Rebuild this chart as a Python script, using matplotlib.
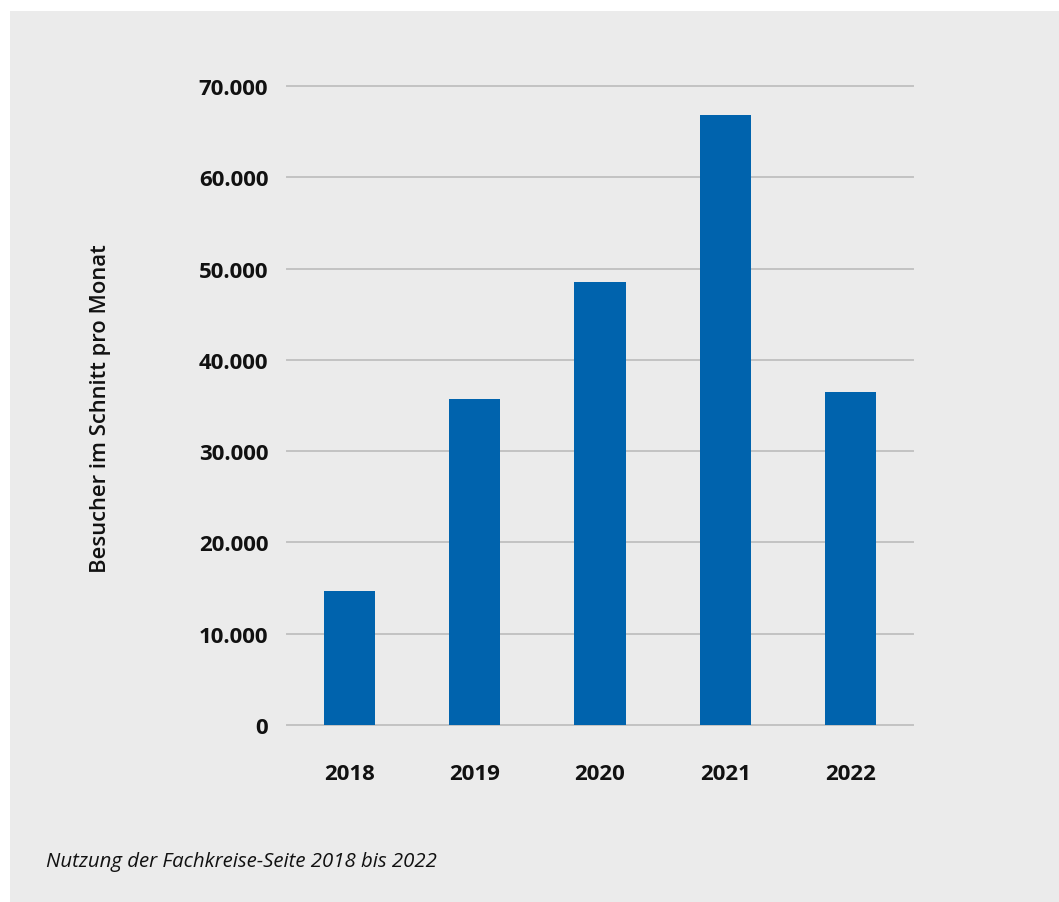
import matplotlib.pyplot as plt
from matplotlib.ticker import FuncFormatter

# data
years = ['2018', '2019', '2020', '2021', '2022']
visitors = [14700, 35700, 48500, 66800, 36500]
y_ticks = [0, 10000, 20000, 30000, 40000, 50000, 60000, 70000]

bg = '#ebebeb'
bar_color = '#0063ad'
grid_color = '#c2c2c2'
text_color = '#111111'

plt.rcParams['font.family'] = ['Open Sans', 'DejaVu Sans']

W, H = 1059, 903
fig = plt.figure(figsize=(W / 100, H / 100), dpi=100, facecolor='white')
# grey panel behind everything (small white margin top/left)
fig.patches.append(plt.Rectangle((10 / W, 0), 1 - 10 / W, 1 - 12 / H, transform=fig.transFigure,
                                 facecolor=bg, edgecolor='none', zorder=-1))

ax = fig.add_axes([287 / W, 1 - 726 / H, (913 - 287) / W, (726 - 87) / H])
ax.set_facecolor('none')

x = range(len(years))
ax.bar(x, visitors, width=0.41, color=bar_color, zorder=2)

for t in y_ticks:
    ax.axhline(t, color=grid_color, linewidth=1.4, zorder=1, clip_on=False)

ax.set_xlim(-0.5, len(years) - 0.5)
ax.set_ylim(0, 70000)
ax.set_yticks(y_ticks)
ax.yaxis.set_major_formatter(FuncFormatter(lambda v, p: f'{int(v):,}'.replace(',', '.')))
ax.set_xticks(list(x))
ax.set_xticklabels(years)

for s in ax.spines.values():
    s.set_visible(False)
ax.tick_params(axis='both', length=0, labelsize=16, colors=text_color)
ax.tick_params(axis='y', pad=13.5)
ax.tick_params(axis='x', pad=27)
for lab in ax.get_xticklabels() + ax.get_yticklabels():
    lab.set_fontweight('bold')

ax.set_ylabel('Besucher im Schnitt pro Monat', fontsize=15.8, fontweight='semibold',
              color=text_color, va='center')
ax.yaxis.set_label_coords((101 - 287) / (913 - 287), 0.496)

fig.text(46 / W, 1 - 862 / H, 'Nutzung der Fachkreise-Seite 2018 bis 2022',
         fontsize=14.7, style='italic', color=text_color, va='center', ha='left')

fig.savefig('out.png', dpi=100, facecolor='white')
